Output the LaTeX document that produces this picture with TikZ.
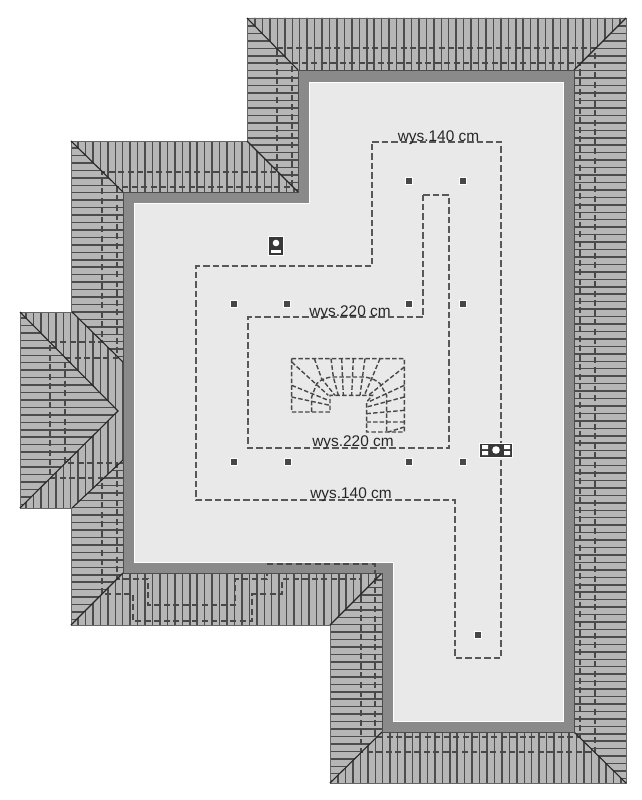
\documentclass[tikz,border=0pt]{standalone}
\usepackage{fontspec}
\setmainfont{Liberation Sans}
\definecolor{roofc}{HTML}{B6B6B6}
\definecolor{raft}{HTML}{4C4C4C}
\definecolor{wallc}{HTML}{8A8A8A}
\definecolor{floorc}{HTML}{E9E9E9}
\definecolor{dashc}{HTML}{585858}
\definecolor{rdashc}{HTML}{484848}
\tikzset{
  roofdash/.style={draw=rdashc,line width=1.1pt,dash pattern=on 6pt off 3.5pt},
  floordash/.style={draw=dashc,line width=1.3pt,dash pattern=on 6.5pt off 3pt},
  stairdash/.style={draw=rdashc,line width=1.4pt,dash pattern=on 4.5pt off 2.2pt},
  hip/.style={draw=black!85,line width=1.1pt},
  lbl/.style={font=\fontsize{15.4}{15.4}\selectfont,text=black!85,inner sep=0pt,anchor=base},
  dot/.style={draw=white,line width=0.8pt,fill=black!72,minimum size=7.5pt,inner sep=0pt,rectangle},
}
\newcommand{\vraft}[4]{% clip polygon #1, x from #2 to #3
  \begin{scope}\clip #1;
    \foreach \px in {#2,#3,...,#4}{\draw[raft,line width=1.5pt] (\px,0)--(\px,800);}
  \end{scope}}
\newcommand{\hraft}[4]{%
  \begin{scope}\clip #1;
    \foreach \py in {#2,#3,...,#4}{\draw[raft,line width=1.5pt] (0,\py)--(642,\py);}
  \end{scope}}
\begin{document}
\begin{tikzpicture}[x=1pt,y=-1pt]
\useasboundingbox (0,0) rectangle (642,800);
\fill[white] (0,0) rectangle (642,800);
% roof
\fill[roofc] (247,18)--(626,18)--(626,783)--(330,783)--(330,625)--(71,625)--(71,508)--(20,508)--(20,312)--(71,312)--(71,141)--(247,141)--cycle;
% rafters
\vraft{(247,18)--(626,18)--(574,70)--(298,70)--cycle}{255}{262.45}{626}
\hraft{(247,18)--(298,70)--(298,192)--(247,141)--cycle}{26}{33.45}{192}
\hraft{(626,18)--(626,783)--(574,732)--(574,70)--cycle}{26}{33.45}{783}
\vraft{(330,783)--(626,783)--(574,732)--(382,732)--cycle}{338}{345.45}{626}
\vraft{(71,141)--(247,141)--(298,192)--(123,192)--cycle}{78}{85.45}{298}
\hraft{(71,141)--(123,192)--(123,362)--(71,312)--cycle}{148}{155.45}{362}
\vraft{(20,312)--(72,312)--(123,362)--(123,411)--(118,411)--cycle}{26}{33.45}{123}
\hraft{(20,312)--(118,411)--(20,508)--cycle}{318}{325.45}{508}
\vraft{(20,508)--(118,411)--(123,411)--(123,460)--(72,508)--cycle}{26}{33.45}{123}
\hraft{(72,508)--(123,460)--(123,573)--(71,625)--cycle}{463}{470.45}{625}
\vraft{(71,625)--(123,573)--(382,573)--(330,625)--cycle}{78}{85.45}{382}
\hraft{(330,625)--(382,573)--(382,732)--(330,783)--cycle}{580}{587.45}{783}
% roof outline
\draw[black!60,line width=0.9pt] (247,18)--(626,18)--(626,783)--(330,783)--(330,625)--(71,625)--(71,508)--(20,508)--(20,312)--(71,312)--(71,141)--(247,141)--cycle;
% hidden dashed lines on the roof
\draw[roofdash] (292,63)--(580,63)--(580,737)--(375,737)--(375,564)--(267,564)--(267,579)--(235,579)--(235,605)--(148,605)--(148,579)--(117,579)--(117,463)--(65,463)--(65,358)--(117,358)--(117,187)--(292,187)--cycle;
\draw[roofdash] (277,48)--(595,48)--(595,752)--(361,752)--(361,579)--(282,579)--(282,594)--(252,594)--(252,621)--(133,621)--(133,594)--(102,594)--(102,478)--(50,478)--(50,342)--(102,342)--(102,172)--(277,172)--cycle;
% hips
\draw[hip] (247,18)--(298,70) (574,70)--(626,18) (574,732)--(626,783) (382,732)--(330,783) (382,573)--(330,625) (123,573)--(71,625) (247,141)--(298,192) (71,141)--(123,192) (20,312)--(118,411)--(20,508) (72,312)--(123,362) (123,460)--(72,508);
% wall band with cut-through
\fill[wallc,even odd rule] (298,70)--(574,70)--(574,732)--(382,732)--(382,573)--(123,573)--(123,192)--(298,192)--cycle
  (309,82)--(563,82)--(563,721)--(393,721)--(393,562)--(134,562)--(134,203)--(309,203)--cycle;
\draw[black!70,line width=0.9pt] (298,70)--(574,70)--(574,732)--(382,732)--(382,573)--(123,573)--(123,192)--(298,192)--cycle;
\fill[floorc] (309,82)--(563,82)--(563,721)--(393,721)--(393,562)--(134,562)--(134,203)--(309,203)--cycle;
\draw[white,line width=1pt] (309,82)--(563,82)--(563,721)--(393,721)--(393,562)--(134,562)--(134,203)--(309,203)--cycle;
% dashed bit on the wall band
\draw[roofdash] (267,564)--(375,564)--(375,573);
% height lines
\draw[floordash] (372,142)--(501,142)--(501,658)--(455,658)--(455,500)--(196,500)--(196,266)--(372,266)--cycle;
\draw[floordash] (423,195)--(449,195)--(449,448)--(248,448)--(248,317)--(423,317)--cycle;
% stairs
\begin{scope}[shift={(285,352)},x=0.3333pt,y=-0.3333pt]
\draw[stairdash] (20,20)--(358,20)--(358,240)--(245,240)--(245,150)--(262,130)--(135,130)--(135,180)--(20,180)--cycle;
\draw[stairdash] (80,180)--(80,135)--(95,95) .. controls (110,80) and (130,75) .. (145,75)--(240,75) .. controls (260,78) and (280,88) .. (285,95)--(305,130)--(305,240);
\draw[stairdash] (20,30)--(130,130) (88,20)--(110,80)--(150,130) (138,20)--(145,75)--(160,130) (170,20)--(175,130) (205,20)--(200,130) (240,20)--(225,130) (285,20)--(262,75)--(238,130) (358,45)--(250,130);
\draw[stairdash] (20,100)--(130,145) (20,135)--(135,160) (358,100)--(250,150) (358,135)--(245,165) (358,175)--(245,185) (358,210)--(245,210) (358,225)--(310,240);
\end{scope}
% labels
\node[lbl] (l1) at (438.5,141.5) {wys.140 cm};
\node[lbl] (l2) at (350,316) {wys.220 cm};
\node[lbl] (l3) at (353,446) {wys.220 cm};
\node[lbl] (l4) at (351,498) {wys.140 cm};
% posts
\foreach \n/\px/\py in {a/409/181,b/463/181,c/234/304,d/287/304,e/409/304,f/463/304,g/234/462,h/288/462,i/409/462,j/463/462,k/478/635}
  \node[dot] (\n) at (\px,\py) {};
% chimneys
\filldraw[fill=black!78,draw=white,line width=0.8pt] (268,236) rectangle (283,255);
\fill[white] (276,243) circle (3.3);
\fill[white] (271,249.5) rectangle (281,252.5);
\filldraw[fill=black!78,draw=white,line width=0.8pt] (479,443) rectangle (512,457);
\fill[white] (482,445) rectangle (488,449) (482,451) rectangle (488,455) (504,445) rectangle (510,449) (504,451) rectangle (510,455);
\fill[white] (496,450) circle (3.8);
\end{tikzpicture}
\end{document}
